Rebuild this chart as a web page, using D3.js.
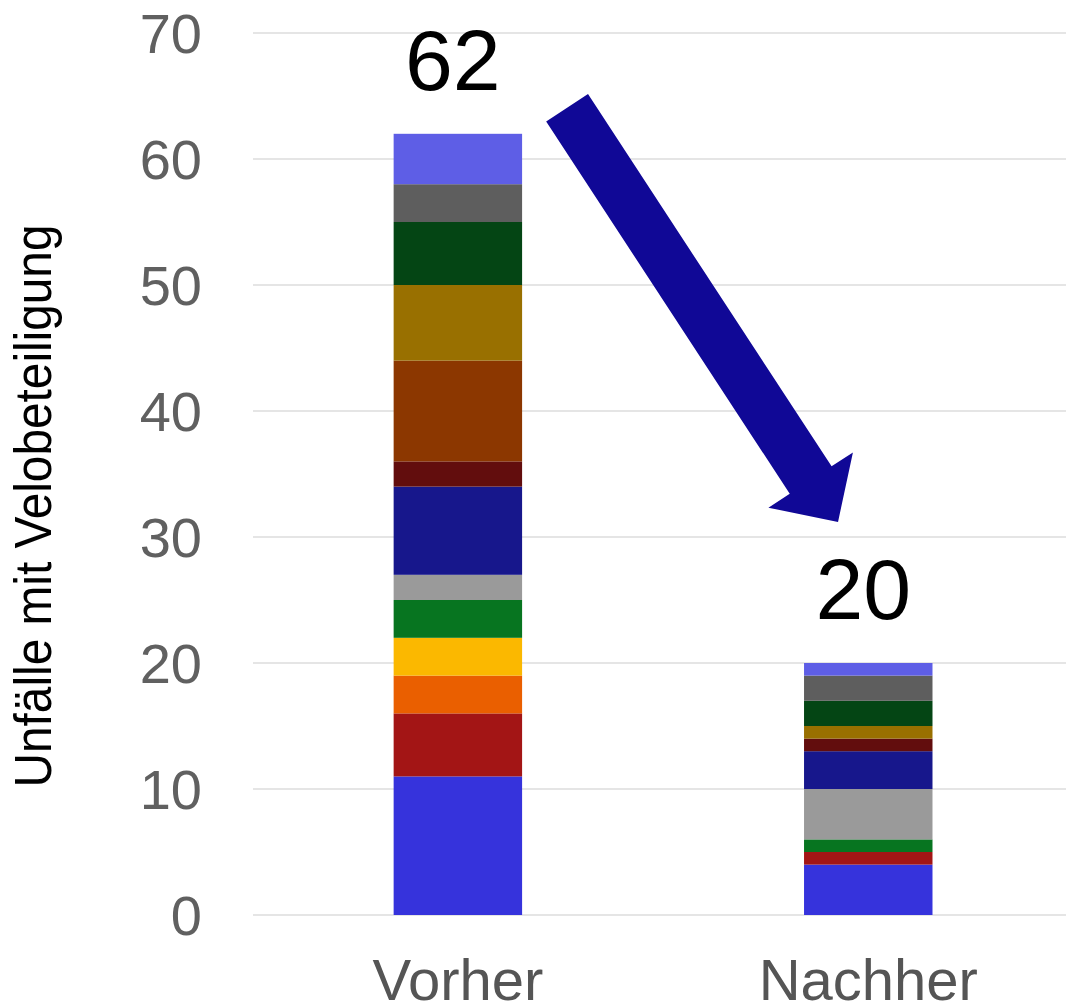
<!DOCTYPE html>
<html>
<head>
<meta charset="utf-8">
<script src="https://cdn.jsdelivr.net/npm/d3@7"></script>
<style>
  body { margin: 0; background: #fff; }
  svg { display: block; }
</style>
</head>
<body>
<div id="chart"></div>
<script>
// categories and stacked series (bottom to top)
var categories = ["Vorher", "Nachher"];
var seriesNames = ["s1", "s2", "s3", "s4", "s5", "s6", "s7", "s8", "s9", "s10", "s11", "s12", "s13"];
var vorherValues = [11, 5, 3, 3, 3, 2, 7, 2, 8, 6, 5, 3, 4];
var nachherValues = [4, 1, 0, 0, 1, 4, 3, 1, 0, 1, 2, 2, 1];
var seriesColors = ["#3633dc", "#a31515", "#ea5f00", "#fbb800", "#077520", "#9a9a9a",
    "#17178c", "#620d0d", "#8c3700", "#997000", "#044514", "#5e5e5e", "#5e5ee6"];
var yTicks = [0, 10, 20, 30, 40, 50, 60, 70];
var totals = [62, 20];

var width = 1066, height = 1003;
var margin = { top: 33, right: 0, bottom: 88, left: 253 };
var font = "font-family:'Liberation Sans',Arial,sans-serif;";

var svg = d3.select("#chart").append("svg")
    .attr("width", width)
    .attr("height", height);

var x = d3.scaleBand()
    .domain(categories)
    .range([margin.left, width - margin.right])
    .paddingInner(0.687)
    .paddingOuter(0.334)
    .align(0.513);

var y = d3.scaleLinear()
    .domain([0, 70])
    .range([height - margin.bottom, margin.top]);

// gridlines
svg.append("g")
    .selectAll("line")
    .data(yTicks)
    .enter()
    .append("line")
    .attr("x1", margin.left)
    .attr("x2", width)
    .attr("y1", (d) => y(d))
    .attr("y2", (d) => y(d))
    .attr("stroke", "#dcdcdc")
    .attr("stroke-width", 1.5);

// y tick labels
svg.append("g")
    .selectAll("text")
    .data(yTicks)
    .enter()
    .append("text")
    .attr("x", 202)
    .attr("y", (d) => y(d))
    .attr("dy", "0.36em")
    .attr("text-anchor", "end")
    .attr("style", "fill:#606060;" + font + "font-size:56px")
    .text((d) => d);

// y axis title (condensed)
svg.append("text")
    .attr("transform", "translate(51,506) rotate(-90)")
    .attr("text-anchor", "middle")
    .attr("textLength", 563)
    .attr("lengthAdjust", "spacingAndGlyphs")
    .attr("style", "fill:#000;" + font + "font-size:52px")
    .text("Unfälle mit Velobeteiligung");

// stacked data
var rows = categories.map(function (c, i) {
    var vals = i === 0 ? vorherValues : nachherValues;
    var r = { category: c };
    seriesNames.forEach(function (s, j) { r[s] = vals[j]; });
    return r;
});

var stack = d3.stack().keys(seriesNames);
var stacked = stack(rows);

svg.append("g")
    .selectAll("g")
    .data(stacked)
    .enter()
    .append("g")
    .attr("fill", (d, i) => seriesColors[i])
    .selectAll("rect")
    .data((d) => d.filter((p) => p[1] - p[0] > 0))
    .enter()
    .append("rect")
    .attr("x", (d) => x(d.data.category))
    .attr("width", x.bandwidth())
    .attr("y", (d) => y(d[1]))
    .attr("height", (d) => y(d[0]) - y(d[1]));

// category labels
svg.append("g")
    .selectAll("text")
    .data(categories)
    .enter()
    .append("text")
    .attr("x", (d) => x(d) + x.bandwidth() / 2)
    .attr("y", 1000)
    .attr("text-anchor", "middle")
    .attr("style", "fill:#555;" + font + "font-size:58px")
    .text((d) => d);

// total labels
svg.append("g")
    .selectAll("text")
    .data(totals)
    .enter()
    .append("text")
    .attr("x", (d, i) => x(categories[i]) + x.bandwidth() / 2 - 5)
    .attr("y", (d) => y(d) - 44)
    .attr("text-anchor", "middle")
    .attr("style", "fill:#000;" + font + "font-size:86px")
    .text((d) => d);

// arrow from Vorher down to Nachher
var start = [x("Vorher") + x.bandwidth() + 45, y(62) - 26];
var tip = [x("Nachher") + 34, y(31.2)];
var shaftW = 50, headW = 101, headL = 50;
var dx = tip[0] - start[0], dy = tip[1] - start[1];
var len = Math.sqrt(dx * dx + dy * dy);
var ux = dx / len, uy = dy / len;
var nx = -uy, ny = ux;
var base = [tip[0] - ux * headL, tip[1] - uy * headL];
var pts = [
    [start[0] + nx * shaftW / 2, start[1] + ny * shaftW / 2],
    [base[0] + nx * shaftW / 2, base[1] + ny * shaftW / 2],
    [base[0] + nx * headW / 2, base[1] + ny * headW / 2],
    tip,
    [base[0] - nx * headW / 2, base[1] - ny * headW / 2],
    [base[0] - nx * shaftW / 2, base[1] - ny * shaftW / 2],
    [start[0] - nx * shaftW / 2, start[1] - ny * shaftW / 2]
];
svg.append("polygon")
    .attr("points", pts.map((p) => p.join(",")).join(" "))
    .attr("fill", "#100896");
</script>
</body>
</html>
